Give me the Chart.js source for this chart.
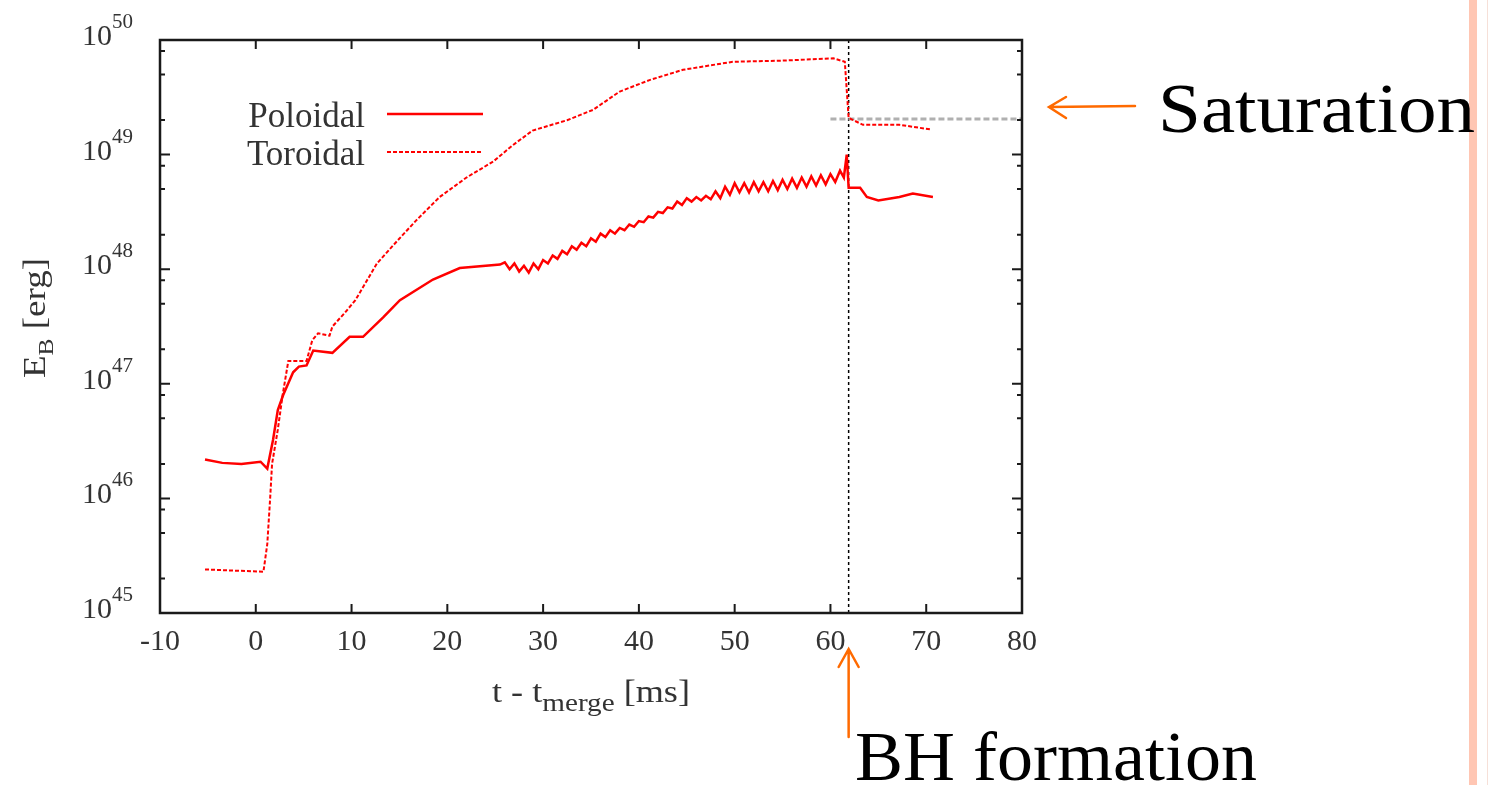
<!DOCTYPE html>
<html>
<head>
<meta charset="utf-8">
<script src="https://cdn.jsdelivr.net/npm/chart.js@4"></script>
<style>
  html, body { margin: 0; padding: 0; background: #fff; }
  canvas { display: block; }
</style>
</head>
<body>
<canvas id="chart" width="1490" height="785"></canvas>
<script>
// values (time in ms, energy as log10 of E_B in erg)
const poloidalT = [
  -5.3, -3.5, -1.5, 0.5, 1.2, 1.8, 2.3, 2.85, 3.9, 4.5, 5.3, 6.0, 8.0, 9.8,
  11.2, 13.3, 15.05, 18.5, 21.3, 25.5,
  26.0, 26.5, 27.0, 27.5, 28.0, 28.5, 29.0, 29.5, 30.0, 30.5, 31.0, 31.5,
  32.0, 32.5, 33.0, 33.5, 34.0, 34.5, 35.0, 35.5, 36.0, 36.5, 37.0, 37.5,
  38.0, 38.5, 39.0, 39.5, 40.0, 40.5, 41.0, 41.5, 42.0, 42.5, 43.0, 43.5,
  44.0, 44.5, 45.0, 45.5, 46.0, 46.5, 47.0, 47.5, 48.0, 48.5, 49.0, 49.5,
  50.0, 50.5, 51.0, 51.5, 52.0, 52.5, 53.0, 53.5, 54.0, 54.5, 55.0, 55.5,
  56.0, 56.5, 57.0, 57.5, 58.0, 58.5, 59.0, 59.5, 60.0, 60.5, 61.0, 61.4,
  61.7, 61.9, 63.1, 63.8, 65.0, 67.2, 68.6, 70.7
];
const poloidalLogE = [
  46.34, 46.31, 46.30, 46.32, 46.26, 46.51, 46.77, 46.90, 47.10, 47.15, 47.16, 47.29, 47.27, 47.41,
  47.41, 47.58, 47.73, 47.91, 48.01, 48.04,
  48.06, 48.00, 48.05, 47.98, 48.03, 47.97, 48.05, 48.00, 48.08, 48.05, 48.12, 48.09,
  48.16, 48.13, 48.20, 48.17, 48.23, 48.20, 48.27, 48.24, 48.31, 48.28, 48.34, 48.31,
  48.36, 48.34, 48.39, 48.37, 48.42, 48.41, 48.46, 48.45, 48.50, 48.49, 48.54, 48.53,
  48.59, 48.56, 48.62, 48.59, 48.63, 48.60, 48.64, 48.61, 48.68, 48.62, 48.72, 48.65,
  48.75, 48.67, 48.75, 48.67, 48.76, 48.68, 48.76, 48.68, 48.77, 48.69, 48.78, 48.70,
  48.79, 48.71, 48.80, 48.72, 48.81, 48.73, 48.82, 48.74, 48.83, 48.76, 48.86, 48.80,
  49.00, 48.71, 48.71, 48.63, 48.60, 48.63, 48.66, 48.63
];
const toroidalT = [
  -5.3, 0.8, 1.2, 1.5, 1.7, 2.3, 2.8, 3.4, 5.3, 5.9, 6.5, 7.7, 8.0, 9.3, 10.4,
  12.65, 14.8, 16.8, 19.2, 22.0, 24.8, 26.8, 28.9, 32.5, 35.2, 38.0, 41.1,
  44.6, 49.8, 55.0, 60.3, 61.5, 61.9, 63.4, 67.2, 70.4
];
const toroidalLogE = [
  45.38, 45.36, 45.60, 46.00, 46.30, 46.60, 46.90, 47.20, 47.20, 47.38, 47.44, 47.42, 47.50, 47.62, 47.73,
  48.05, 48.25, 48.43, 48.63, 48.80, 48.94, 49.08, 49.21, 49.30, 49.39, 49.55, 49.65,
  49.74, 49.81, 49.82, 49.84, 49.81, 49.32, 49.26, 49.26, 49.22
];
const saturationT = [60, 80];
const saturationE = 2.04e49;
const bhTime = 61.9;

const xTicks = [-10, 0, 10, 20, 30, 40, 50, 60, 70, 80];
const yExponents = [45, 46, 47, 48, 49, 50];
const yMinorMantissas = [2, 5, 8];
const seriesNames = ["Poloidal", "Toroidal"];

const toPoints = (ts, logs) => ts.map((t, i) => ({x: t, y: Math.pow(10, logs[i])}));

const RED = "#ff0000";
const INK = "#333333";
const ORANGE = "#ff6a00";
const SERIF = "'Liberation Serif', 'Times New Roman', serif";

// text laid out piece by piece (for sub/superscripts), squeezed to a width if asked
function drawPieces(ctx, pieces, x, y, fitWidth) {
  let total = 0;
  pieces.forEach((p) => {
    ctx.font = p.size + "px " + SERIF;
    p.w = ctx.measureText(p.text).width;
    total += p.w;
  });
  const sx = fitWidth ? fitWidth / total : 1;
  ctx.save();
  ctx.translate(x, y);
  ctx.scale(sx, 1);
  let cx = 0;
  pieces.forEach((p) => {
    ctx.font = p.size + "px " + SERIF;
    ctx.fillText(p.text, cx, p.dy || 0);
    cx += p.w;
  });
  ctx.restore();
}

const gnuplotFrame = {
  id: "gnuplotFrame",
  beforeDraw(chart) {
    const ctx = chart.ctx;
    ctx.save();
    ctx.fillStyle = "#fff";
    ctx.fillRect(0, 0, chart.width, chart.height);
    ctx.fillStyle = "#ffc6b3";
    ctx.fillRect(1469, 0, 8, chart.height);
    ctx.fillStyle = "#f6e0d8";
    ctx.fillRect(1487, 0, 1, chart.height);
    ctx.restore();
  },
  afterDraw(chart) {
    const ctx = chart.ctx;
    const a = chart.chartArea;
    const xs = chart.scales.x;
    const ys = chart.scales.y;
    ctx.save();

    // frame
    ctx.strokeStyle = "#1a1a1a";
    ctx.lineWidth = 2.5;
    ctx.strokeRect(a.left, a.top, a.right - a.left, a.bottom - a.top);

    // ticks, inward on all four sides
    ctx.lineWidth = 2;
    ctx.beginPath();
    xTicks.forEach((t) => {
      const px = xs.getPixelForValue(t);
      ctx.moveTo(px, a.bottom); ctx.lineTo(px, a.bottom - 9);
      ctx.moveTo(px, a.top); ctx.lineTo(px, a.top + 9);
    });
    yExponents.forEach((e) => {
      const py = ys.getPixelForValue(Math.pow(10, e));
      ctx.moveTo(a.left, py); ctx.lineTo(a.left + 10, py);
      ctx.moveTo(a.right, py); ctx.lineTo(a.right - 10, py);
      if (e < 50) {
        yMinorMantissas.forEach((m) => {
          const my = ys.getPixelForValue(m * Math.pow(10, e));
          ctx.moveTo(a.left, my); ctx.lineTo(a.left + 5, my);
          ctx.moveTo(a.right, my); ctx.lineTo(a.right - 5, my);
        });
      }
    });
    ctx.stroke();

    // tick labels
    ctx.fillStyle = INK;
    ctx.textBaseline = "alphabetic";
    ctx.textAlign = "center";
    ctx.font = "30px " + SERIF;
    xTicks.forEach((t) => {
      ctx.fillText(String(t), xs.getPixelForValue(t), 650);
    });
    ctx.textAlign = "left";
    yExponents.forEach((e) => {
      const py = ys.getPixelForValue(Math.pow(10, e));
      drawPieces(ctx, [
        {text: "10", size: 30},
        {text: String(e), size: 21, dy: -17}
      ], 82, py + 5);
    });

    // axis titles
    drawPieces(ctx, [
      {text: "t - t", size: 31},
      {text: "merge", size: 25, dy: 9},
      {text: " [ms]", size: 31}
    ], 492, 702, 198);
    ctx.save();
    ctx.translate(45, 378);
    ctx.rotate(-Math.PI / 2);
    drawPieces(ctx, [
      {text: "E", size: 32},
      {text: "B", size: 22, dy: 8},
      {text: " [erg]", size: 32}
    ], 0, 0, 120);
    ctx.restore();

    // legend
    ctx.font = "35px " + SERIF;
    ctx.textAlign = "right";
    ctx.fillStyle = INK;
    chart.data.datasets.slice(0, 2).forEach((ds, i) => {
      const ly = [114, 152][i];
      ctx.fillText(seriesNames[i], 365, ly + 13);
      ctx.strokeStyle = ds.borderColor;
      ctx.lineWidth = ds.borderWidth;
      ctx.setLineDash(ds.borderDash || []);
      ctx.beginPath();
      ctx.moveTo(387, ly);
      ctx.lineTo(483, ly);
      ctx.stroke();
    });
    ctx.setLineDash([]);

    // annotations
    ctx.strokeStyle = ORANGE;
    ctx.lineWidth = 2.5;
    ctx.lineCap = "round";
    ctx.beginPath();
    ctx.moveTo(1135, 106); ctx.lineTo(1049, 107);
    ctx.moveTo(1066, 97); ctx.lineTo(1049, 107); ctx.lineTo(1066, 118);
    const bx = xs.getPixelForValue(bhTime);
    ctx.moveTo(bx, 737); ctx.lineTo(bx, 649);
    ctx.moveTo(bx - 10, 667); ctx.lineTo(bx, 649); ctx.lineTo(bx + 10, 667);
    ctx.stroke();

    ctx.fillStyle = "#000";
    ctx.textAlign = "left";
    drawPieces(ctx, [{text: "Saturation", size: 70}], 1158, 132, 317);
    drawPieces(ctx, [{text: "BH formation", size: 70}], 855, 780, 402);
    ctx.restore();
  }
};

new Chart(document.getElementById("chart"), {
  type: "line",
  data: {
    datasets: [
      {
        label: seriesNames[0],
        data: toPoints(poloidalT, poloidalLogE),
        borderColor: RED,
        borderWidth: 2.5,
        pointRadius: 0,
        tension: 0,
      },
      {
        label: seriesNames[1],
        data: toPoints(toroidalT, toroidalLogE),
        borderColor: RED,
        borderWidth: 2,
        borderDash: [4, 2],
        pointRadius: 0,
        tension: 0,
      },
      {
        label: "saturation",
        data: saturationT.map((t) => ({x: t, y: saturationE})),
        borderColor: "#b0b0b0",
        borderWidth: 3,
        borderDash: [6, 3],
        pointRadius: 0,
      },
      {
        label: "BH formation",
        data: [{x: bhTime, y: 1e45}, {x: bhTime, y: 1e50}],
        borderColor: "#000",
        borderWidth: 1.5,
        borderDash: [3, 3],
        pointRadius: 0,
      },
    ],
  },
  options: {
    responsive: false,
    animation: false,
    devicePixelRatio: 1,
    layout: {padding: {left: 160, top: 40, right: 468, bottom: 172}},
    plugins: {legend: {display: false}, tooltip: {enabled: false}},
    scales: {
      x: {
        type: "linear",
        min: -10,
        max: 80,
        grid: {display: false},
        border: {display: false},
        ticks: {display: false},
        afterFit: (s) => { s.height = 0; },
      },
      y: {
        type: "logarithmic",
        min: 1e45,
        max: 1e50,
        grid: {display: false},
        border: {display: false},
        ticks: {display: false},
        afterFit: (s) => { s.width = 0; },
      },
    },
  },
  plugins: [gnuplotFrame],
});
</script>
</body>
</html>
